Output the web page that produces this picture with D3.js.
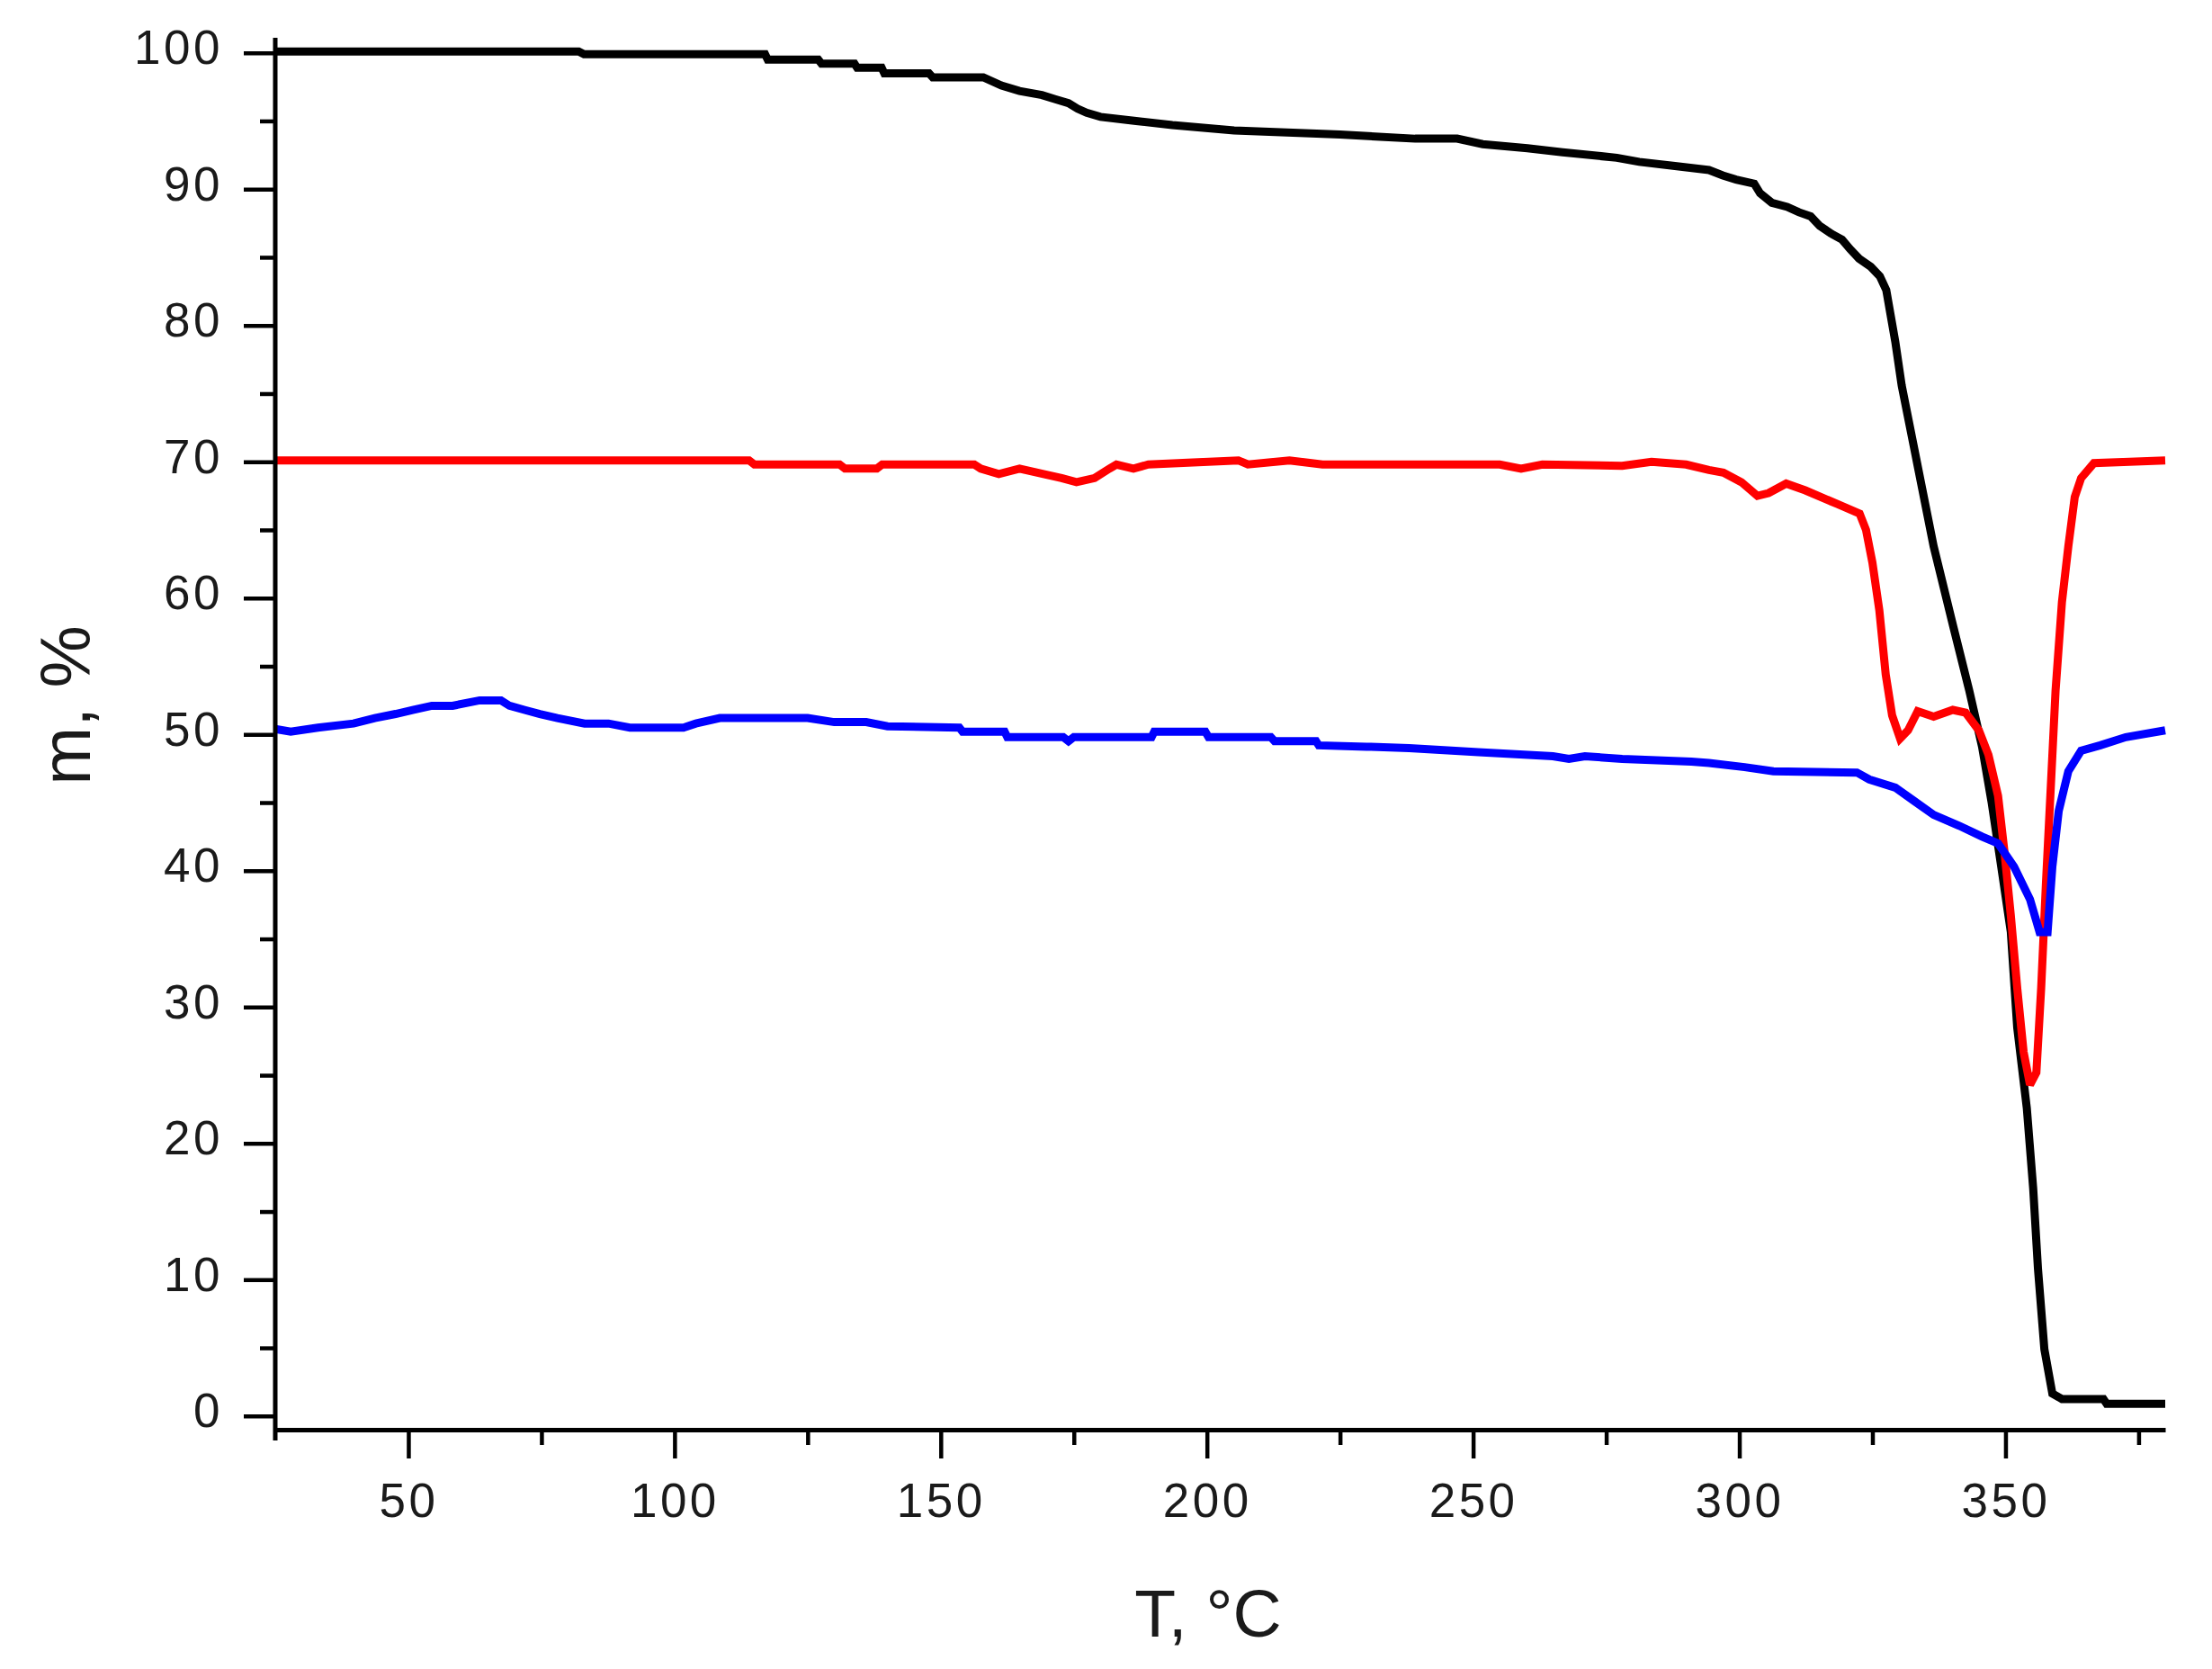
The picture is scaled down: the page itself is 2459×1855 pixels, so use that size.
<!DOCTYPE html>
<html>
<head>
<meta charset="utf-8">
<script src="https://cdn.jsdelivr.net/npm/d3@7/dist/d3.min.js"></script>
<style>
  html, body { margin: 0; padding: 0; background: #fff; }
  svg { display: block; }
</style>
</head>
<body>
<svg id="chart" width="2459" height="1855"></svg>
<script>
// ---- data ----
const xTicks = [50, 100, 150, 200, 250, 300, 350];
const xMinorTicks = [75, 125, 175, 225, 275, 325, 375];
const yTicks = [0, 10, 20, 30, 40, 50, 60, 70, 80, 90, 100];
const yMinorTicks = [5, 15, 25, 35, 45, 55, 65, 75, 85, 95];
const xTitle = "T, °C";
const yTitle = "m, %";

const blackT = [25, 82, 83, 117, 117.5, 127, 127.6, 133.8, 134.3, 138.9, 139.4, 147.8, 148.5, 158, 161.4, 164.8, 169, 171.5, 174, 175.7, 177.4, 180, 186.7, 193.5, 205.1, 225, 239.1, 247, 251.8, 260.2, 266.8, 277, 281.2, 287.9, 294.3, 296.9, 299.4, 302.8, 303.9, 306.1, 309, 311.2, 313.4, 315.1, 317.4, 319.3, 320.8, 322.5, 324.7, 326.4, 327.6, 328.4, 329.3, 330.5, 333.5, 336.5, 340.2, 343.2, 345.6, 347.4, 349.2, 351, 352.2, 354, 355.2, 356.1, 357.3, 358.8, 360.6, 368.4, 369, 380];
const blackM = [100.1, 100.1, 99.9, 99.9, 99.5, 99.5, 99.2, 99.2, 98.9, 98.9, 98.5, 98.5, 98.2, 98.2, 97.6, 97.2, 96.9, 96.6, 96.3, 95.9, 95.6, 95.3, 95, 94.7, 94.3, 94, 93.7, 93.7, 93.3, 93, 92.7, 92.3, 92, 91.7, 91.4, 91, 90.7, 90.4, 89.7, 89, 88.7, 88.3, 88, 87.3, 86.7, 86.3, 85.6, 84.9, 84.3, 83.6, 82.6, 80.8, 78.8, 75.6, 69.7, 63.8, 57.9, 53.2, 49.1, 45, 40.3, 35.5, 28.5, 22.6, 16.7, 10.8, 4.9, 1.65, 1.25, 1.25, 0.9, 0.9];

const redT = [25, 114, 115, 131, 132, 138, 139, 156.3, 157.5, 160.9, 164.8, 169.3, 172.7, 175.5, 178.9, 181.7, 183, 186.2, 189, 205.9, 207.7, 215.5, 221.7, 238, 255, 259, 263, 278, 283.5, 290, 294.3, 297, 300.4, 303.4, 305.5, 308.8, 312.4, 318.4, 322.6, 323.8, 325, 326.3, 327.5, 328.7, 330.2, 331.7, 333.5, 336.5, 340.1, 342.5, 345, 346.8, 348.6, 349.8, 351, 352.2, 353.4, 354.6, 355.8, 356.7, 357.6, 358.5, 359.4, 360.6, 361.8, 363, 364.2, 366.6, 380];
const redM = [70.1, 70.1, 69.8, 69.8, 69.5, 69.5, 69.8, 69.8, 69.5, 69.1, 69.5, 69.1, 68.8, 68.5, 68.8, 69.5, 69.8, 69.5, 69.8, 70.1, 69.8, 70.1, 69.8, 69.8, 69.8, 69.5, 69.8, 69.7, 70, 69.8, 69.4, 69.2, 68.5, 67.5, 67.7, 68.4, 67.9, 66.9, 66.2, 65, 62.6, 59.1, 54.4, 51.4, 49.7, 50.3, 51.7, 51.3, 51.8, 51.6, 50.3, 48.5, 45.5, 41.4, 36.7, 31.4, 26.7, 24.3, 25.2, 31.4, 39.1, 46.1, 53.2, 59.7, 63.8, 67.4, 68.8, 69.9, 70.1];

const blueT = [25, 27.9, 33, 39.7, 43.7, 47.6, 51, 54.4, 58.3, 63.4, 67.4, 69, 71.8, 74.7, 78, 83.1, 87.6, 91.6, 101.7, 104, 108.5, 125, 130, 136, 140, 153.5, 154.1, 162, 162.5, 173, 174, 175, 189.6, 190.1, 199.7, 200.3, 212, 212.7, 220.5, 221, 230, 238, 251, 265, 268, 271, 278, 291, 294.3, 301, 306.4, 322.1, 324.4, 329.3, 332.9, 336.5, 341.3, 345.6, 348.6, 351.6, 354.6, 356.4, 357.9, 358.8, 360, 361.8, 364.2, 367.8, 372.6, 380];
const blueM = [50.4, 50.2, 50.5, 50.8, 51.2, 51.5, 51.8, 52.1, 52.1, 52.5, 52.5, 52.1, 51.8, 51.5, 51.2, 50.8, 50.8, 50.5, 50.5, 50.8, 51.2, 51.2, 50.9, 50.9, 50.6, 50.5, 50.2, 50.2, 49.8, 49.8, 49.5, 49.8, 49.8, 50.2, 50.2, 49.8, 49.8, 49.5, 49.5, 49.2, 49.1, 49, 48.7, 48.4, 48.2, 48.4, 48.2, 48, 47.9, 47.6, 47.3, 47.2, 46.7, 46.1, 45.1, 44.1, 43.3, 42.5, 42, 40.3, 37.9, 35.5, 35.5, 40.3, 44.4, 47.3, 48.8, 49.2, 49.8, 50.3];

const seriesNames = ["black", "red", "blue"];
const seriesColors = ["#000000", "#ff0000", "#0000ff"];
const seriesData = [
  blackT.map((t, i) => [t, blackM[i]]),
  redT.map((t, i) => [t, redM[i]]),
  blueT.map((t, i) => [t, blueM[i]])
];

// ---- layout ----
const svg = d3.select("#chart");
svg.append("rect").attr("width", 2459).attr("height", 1855).attr("fill", "#fff");

const x = d3.scaleLinear().domain([25, 380]).range([306, 2407]);
const y = d3.scaleLinear().domain([-1, 101.1]).range([1589, 42]);

const tickFont = "'Liberation Sans', Arial, sans-serif";

// lines
const line = d3.line().x(d => x(d[0])).y(d => y(d[1])).curve(d3.curveLinear);
svg.append("g").selectAll("path")
  .data(seriesData)
  .join("path")
  .attr("d", d => line(d))
  .attr("fill", "none")
  .attr("stroke", (d, i) => seriesColors[i])
  .attr("stroke-width", 9)
  .attr("stroke-linejoin", "miter")
  .attr("stroke-miterlimit", 2)
  .attr("stroke-linecap", "butt");

// x axis
const xAxis = svg.append("g").attr("transform", `translate(0,${y(-1)})`);
xAxis.call(d3.axisBottom(x).tickValues(xTicks).tickSize(32).tickPadding(25).tickSizeOuter(0).tickFormat(d3.format("d")));
xAxis.append("g").call(d3.axisBottom(x).tickValues(xMinorTicks).tickSize(17).tickFormat("").tickSizeOuter(0))
  .select(".domain").remove();
xAxis.selectAll(".domain").attr("stroke", "#000").attr("stroke-width", 5);
xAxis.selectAll(".tick line").attr("stroke", "#000").attr("stroke-width", 4.5);
xAxis.selectAll(".tick text")
  .attr("fill", "#1a1a1a")
  .attr("font-family", tickFont)
  .attr("font-size", 53)
  .attr("letter-spacing", "3.5px")
  .attr("dy", null)
  .attr("y", 97);

// y axis
const yAxis = svg.append("g").attr("transform", `translate(${x(25)},0)`);
yAxis.call(d3.axisLeft(y).tickValues(yTicks).tickSize(35).tickPadding(23).tickSizeOuter(0).tickFormat(d3.format("d")));
yAxis.append("g").call(d3.axisLeft(y).tickValues(yMinorTicks).tickSize(17).tickFormat("").tickSizeOuter(0))
  .select(".domain").remove();
yAxis.select(".domain").attr("d", `M0,${y(101.1)}V${y(-1) + 12}`).attr("stroke", "#000").attr("stroke-width", 5);
yAxis.selectAll(".tick line").attr("stroke", "#000").attr("stroke-width", 4.5);
yAxis.selectAll(".tick text")
  .attr("fill", "#1a1a1a")
  .attr("font-family", tickFont)
  .attr("font-size", 53)
  .attr("letter-spacing", "3.5px")
  .attr("dy", "12px");

// axis titles
svg.append("text")
  .attr("x", 1343).attr("y", 1819)
  .attr("text-anchor", "middle")
  .attr("font-family", tickFont)
  .attr("font-size", 75)
  .attr("fill", "#1a1a1a")
  .text(xTitle);

svg.append("text")
  .attr("transform", "translate(100,784) rotate(-90)")
  .attr("text-anchor", "middle")
  .attr("font-family", tickFont)
  .attr("font-size", 78)
  .attr("fill", "#1a1a1a")
  .text(yTitle);
</script>
</body>
</html>
